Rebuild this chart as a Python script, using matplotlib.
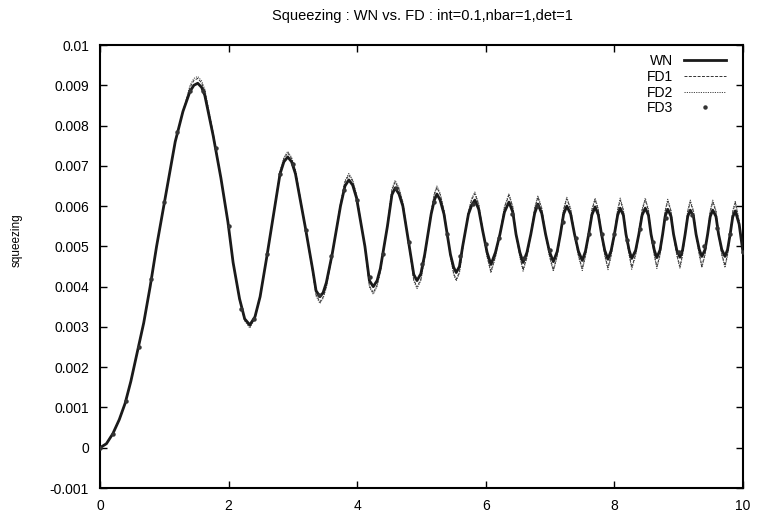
import matplotlib
matplotlib.use("Agg")
import matplotlib.pyplot as plt
import numpy as np
from matplotlib.ticker import FuncFormatter

# Values (y in units of 1e-3), one row per half oscillation
t = [0.00, 0.10, 0.20, 0.30, 0.39, 0.48, 0.57, 0.68, 0.78, 0.88, 0.98, 1.08, 1.17, 1.29,
     1.40, 1.46, 1.52, 1.58, 1.63, 1.76, 1.88, 1.99, 2.07, 2.17, 2.25, 2.33,
     2.41, 2.49, 2.59, 2.69, 2.80, 2.86, 2.92,
     2.98, 3.04, 3.19, 3.31, 3.36, 3.42,
     3.47, 3.52, 3.61, 3.74, 3.81, 3.87,
     3.93, 3.99, 4.12, 4.19, 4.25,
     4.31, 4.36, 4.47, 4.54, 4.59,
     4.65, 4.71, 4.82, 4.88, 4.93,
     4.99, 5.05, 5.15, 5.20, 5.24,
     5.29, 5.35, 5.45, 5.50, 5.54,
     5.59, 5.64, 5.73, 5.78, 5.83,
     5.89, 5.95, 6.02, 6.08,
     6.15, 6.22, 6.29, 6.36,
     6.42, 6.47, 6.53, 6.58,
     6.64, 6.70, 6.76, 6.81,
     6.87, 6.93, 6.99, 7.05,
     7.11, 7.16, 7.21, 7.26,
     7.32, 7.38, 7.44, 7.50,
     7.55, 7.60, 7.65, 7.70,
     7.75, 7.80, 7.85, 7.90,
     7.95, 8.00, 8.05, 8.09,
     8.14, 8.18, 8.23, 8.27,
     8.33, 8.38, 8.43, 8.48,
     8.53, 8.57, 8.62, 8.66,
     8.71, 8.75, 8.79, 8.83,
     8.88, 8.92, 8.97, 9.02,
     9.06, 9.10, 9.14, 9.18,
     9.23, 9.27, 9.32, 9.36,
     9.41, 9.45, 9.49, 9.53,
     9.58, 9.62, 9.67, 9.72,
     9.76, 9.80, 9.84, 9.88,
     9.94, 10.00]

wn = [0.00, 0.10, 0.35, 0.70, 1.10, 1.65, 2.30, 3.10, 4.00, 5.00, 5.90, 6.80, 7.60, 8.35,
      8.85, 9.00, 9.05, 8.95, 8.75, 7.75, 6.70, 5.60, 4.60, 3.70, 3.20, 3.05,
      3.25, 3.75, 4.70, 5.70, 6.80, 7.10, 7.22,
      7.10, 6.80, 5.50, 4.40, 3.90, 3.75,
      3.85, 4.10, 4.80, 6.00, 6.50, 6.65,
      6.52, 6.20, 5.00, 4.15, 4.00,
      4.15, 4.45, 5.50, 6.28, 6.45,
      6.30, 6.00, 4.90, 4.30, 4.15,
      4.32, 4.80, 5.80, 6.15, 6.30,
      6.15, 5.80, 4.80, 4.48, 4.35,
      4.50, 5.00, 5.80, 6.02, 6.15,
      5.92, 5.40, 4.85, 4.55,
      4.85, 5.30, 5.85, 6.10,
      5.85, 5.30, 4.85, 4.60,
      4.85, 5.30, 5.82, 6.05,
      5.82, 5.30, 4.87, 4.62,
      4.87, 5.30, 5.80, 6.00,
      5.80, 5.30, 4.88, 4.65,
      4.88, 5.30, 5.78, 5.98,
      5.78, 5.30, 4.90, 4.68,
      4.90, 5.30, 5.77, 5.95,
      5.77, 5.30, 4.90, 4.70,
      4.90, 5.30, 5.77, 5.95,
      5.77, 5.30, 4.91, 4.72,
      4.91, 5.30, 5.75, 5.92,
      5.75, 5.30, 4.91, 4.73,
      4.91, 5.30, 5.74, 5.90,
      5.74, 5.30, 4.92, 4.75,
      4.92, 5.30, 5.74, 5.90,
      5.74, 5.30, 4.92, 4.75,
      4.92, 5.30, 5.73, 5.88,
      5.55, 4.85]

fd1 = [0.00, 0.10, 0.35, 0.70, 1.10, 1.65, 2.30, 3.10, 4.00, 5.00, 5.90, 6.80, 7.60, 8.35,
       8.95, 9.12, 9.17, 9.06, 8.85, 7.80, 6.70, 5.60, 4.60, 3.68, 3.17, 3.00,
       3.22, 3.75, 4.70, 5.70, 6.85, 7.18, 7.32,
       7.18, 6.88, 5.50, 4.35, 3.80, 3.62,
       3.74, 4.00, 4.78, 6.05, 6.60, 6.77,
       6.62, 6.27, 4.98, 4.02, 3.85,
       4.04, 4.38, 5.52, 6.40, 6.60,
       6.42, 6.08, 4.87, 4.17, 3.99,
       4.18, 4.73, 5.85, 6.29, 6.46,
       6.29, 5.88, 4.75, 4.33, 4.18,
       4.36, 4.95, 5.85, 6.16, 6.31,
       6.03, 5.42, 4.75, 4.38,
       4.75, 5.30, 5.97, 6.27,
       5.97, 5.30, 4.75, 4.42,
       4.75, 5.30, 5.93, 6.22,
       5.93, 5.30, 4.77, 4.42,
       4.77, 5.30, 5.91, 6.18,
       5.91, 5.30, 4.78, 4.45,
       4.78, 5.30, 5.90, 6.16,
       5.90, 5.30, 4.79, 4.47,
       4.79, 5.30, 5.89, 6.15,
       5.89, 5.30, 4.80, 4.48,
       4.80, 5.30, 5.89, 6.15,
       5.89, 5.30, 4.80, 4.50,
       4.80, 5.30, 5.87, 6.12,
       5.87, 5.30, 4.80, 4.50,
       4.80, 5.30, 5.86, 6.10,
       5.86, 5.30, 4.81, 4.52,
       4.81, 5.30, 5.86, 6.10,
       5.86, 5.30, 4.81, 4.52,
       4.81, 5.30, 5.85, 6.08,
       5.62, 4.80]

fd2 = [0.00, 0.10, 0.35, 0.70, 1.10, 1.65, 2.30, 3.10, 4.00, 5.00, 5.90, 6.80, 7.60, 8.35,
       9.00, 9.17, 9.22, 9.11, 8.90, 7.82, 6.70, 5.60, 4.60, 3.67, 3.15, 2.97,
       3.20, 3.75, 4.70, 5.70, 6.87, 7.21, 7.36,
       7.21, 6.90, 5.50, 4.33, 3.77, 3.58,
       3.71, 3.97, 4.77, 6.07, 6.63, 6.81,
       6.65, 6.29, 4.97, 3.99, 3.81,
       4.01, 4.36, 5.53, 6.43, 6.64,
       6.45, 6.10, 4.86, 4.14, 3.95,
       4.15, 4.71, 5.87, 6.32, 6.50,
       6.32, 5.90, 4.73, 4.30, 4.14,
       4.33, 4.93, 5.87, 6.19, 6.35,
       6.06, 5.43, 4.73, 4.34,
       4.72, 5.30, 5.99, 6.31,
       5.99, 5.30, 4.72, 4.38,
       4.72, 5.30, 5.96, 6.26,
       5.96, 5.30, 4.74, 4.38,
       4.74, 5.30, 5.94, 6.22,
       5.94, 5.30, 4.75, 4.40,
       4.75, 5.30, 5.93, 6.20,
       5.93, 5.30, 4.76, 4.42,
       4.76, 5.30, 5.92, 6.20,
       5.92, 5.30, 4.77, 4.43,
       4.77, 5.30, 5.92, 6.20,
       5.92, 5.30, 4.77, 4.45,
       4.77, 5.30, 5.90, 6.17,
       5.90, 5.30, 4.77, 4.45,
       4.77, 5.30, 5.89, 6.15,
       5.89, 5.30, 4.78, 4.47,
       4.78, 5.30, 5.89, 6.15,
       5.89, 5.30, 4.78, 4.47,
       4.78, 5.30, 5.88, 6.13,
       5.64, 4.78]

# FD3 is drawn with points only
t3 = [0.0, 0.2, 0.4, 0.6, 0.8, 1.0, 1.2, 1.4, 1.6, 1.8, 2.0, 2.2, 2.4, 2.6, 2.8, 3.0, 3.2,
      3.4, 3.6, 3.8, 4.0, 4.2, 4.4, 4.6, 4.8, 5.0, 5.2, 5.4, 5.6, 5.8, 6.0, 6.2, 6.4, 6.6,
      6.8, 7.0, 7.2, 7.4, 7.6, 7.8, 8.0, 8.2, 8.4, 8.6, 8.8, 9.0, 9.2, 9.4, 9.6, 9.8, 10.0]
fd3 = [0.00, 0.35, 1.15, 2.50, 4.20, 6.10, 7.85, 8.85, 8.85, 7.45, 5.50, 3.45, 3.20, 4.80,
       6.80, 7.05, 5.40, 3.80, 4.75, 6.40, 6.15, 4.25, 4.80, 6.45, 5.10, 4.55, 6.10, 5.30,
       4.75, 6.05, 5.05, 5.20, 5.80, 4.70, 6.00, 4.90, 5.60, 5.20, 5.30, 5.30, 5.30, 5.17,
       5.43, 5.10, 5.70, 4.85, 5.77, 5.00, 5.45, 5.30, 4.85]

title = "Squeezing : WN vs. FD : int=0.1,nbar=1,det=1"

plt.rcParams['font.family'] = ['Liberation Sans', 'DejaVu Sans']
plt.rcParams['font.size'] = 10

fig = plt.figure(figsize=(7.6, 5.21), dpi=100)
ax = fig.add_axes([100/760, 1-488/521, 643/760, 443/521])

s = 1e-3
ax.plot(t, np.array(wn)*s, c='#1a1a1a', lw=2.0, label='WN', zorder=3)
ax.plot(t, np.array(fd1)*s, c='#333333', lw=0.7, dashes=(3, 1.5), label='FD1', zorder=2)
ax.plot(t, np.array(fd2)*s, c='#444444', lw=0.7, dashes=(1.2, 1.2), label='FD2', zorder=2)
ax.plot(t3, np.array(fd3)*s, ls='none', marker='o', ms=2.2, c='#333333', label='FD3', zorder=4)

ax.set_xlim(0, 10)
ax.set_ylim(-0.001, 0.01)
ax.set_xticks(np.arange(0, 11, 2))
ax.set_yticks(np.arange(-0.001, 0.0105, 0.001))
ax.yaxis.set_major_formatter(FuncFormatter(lambda v, p: '%g' % round(v, 4)))
ax.tick_params(direction='in', top=True, right=True, length=5, width=1, pad=8, labelsize=10)
for sp in ax.spines.values():
    sp.set_linewidth(1.5)

ax.set_ylabel('squeezing', fontsize=8.5)
ax.yaxis.set_label_coords(-0.121, 0.56)
fig.text(422/760, 1-16/521, title, ha='center', va='center', fontsize=10.5)

ax.legend(loc='upper right', bbox_to_anchor=(0.986, 0.998), frameon=False, markerfirst=False,
          handlelength=3.0, labelspacing=0.12, handletextpad=0.8, borderaxespad=0.2,
          numpoints=1, fontsize=10)

fig.savefig('out.png', dpi=100)
